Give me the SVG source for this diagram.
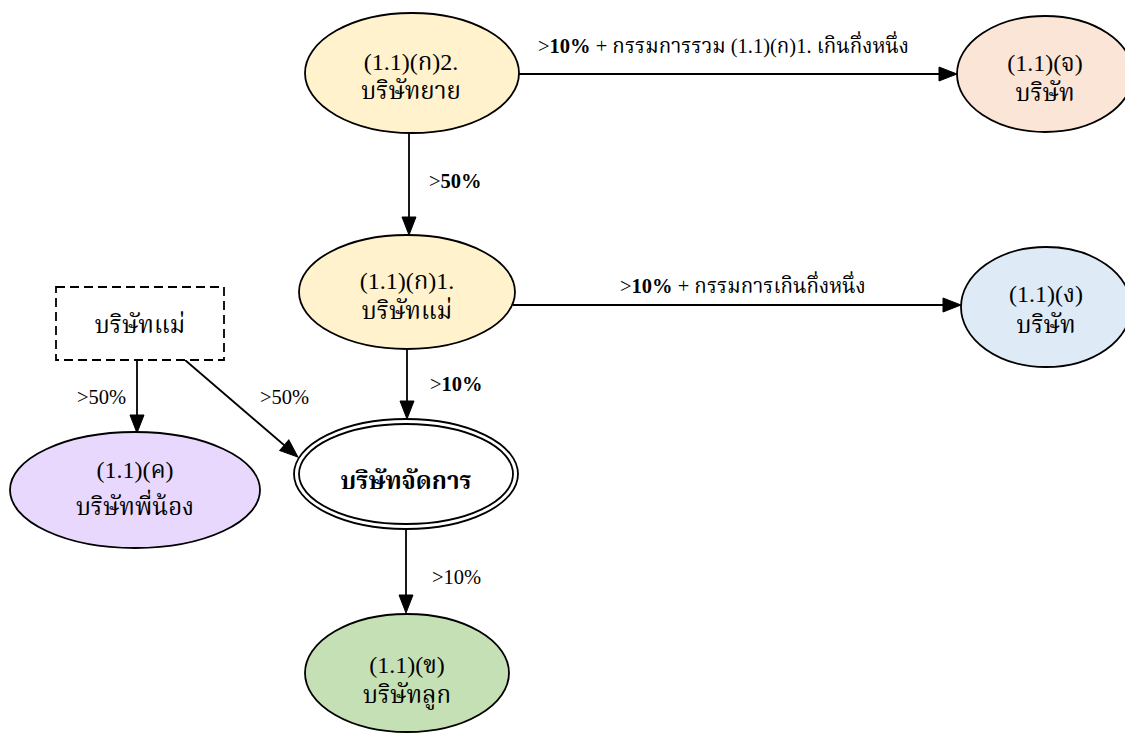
<svg xmlns="http://www.w3.org/2000/svg" width="1125" height="733" viewBox="0 0 1125 733">
<defs>
<marker id="ah" markerUnits="userSpaceOnUse" markerWidth="19" markerHeight="15" refX="0" refY="7" orient="auto" overflow="visible">
<path d="M0,0 L18,7 L0,14 z" fill="#000" stroke="#000" stroke-width="1"/>
</marker>
<style>
.n{stroke:#000;stroke-width:1.8}
.t{font-family:'Liberation Serif','Noto Serif Thai','DejaVu Serif',serif;font-size:24px;fill:#000;text-anchor:middle}
.e{fill:none;stroke:#000;stroke-width:1.8;marker-end:url(#ah)}
.l{font-family:'Liberation Serif','Noto Serif Thai','DejaVu Serif',serif;font-size:20.5px;fill:#000}
.b{font-weight:bold}
</style>
</defs>
<rect width="1125" height="733" fill="#fff"/>
<g id="connectors">
<path class="e" d="M518,74 L939,74"/>
<path class="e" d="M409,133 L409,217"/>
<path class="e" d="M513,305 L943,305"/>
<path class="e" d="M407,349 L407,401"/>
<path class="e" d="M137,360 L137,415"/>
<path class="e" d="M185,360 L284.3,445.3"/>
<path class="e" d="M406,529 L406,595"/>
<text class="l" x="538" y="53">&gt;<tspan class="b">10%</tspan> + กรรมการรวม (1.1)(ก)1. เกินกึ่งหนึ่ง</text>
<text class="l" x="429" y="188">&gt;<tspan class="b">50%</tspan></text>
<text class="l" x="620" y="293">&gt;<tspan class="b">10%</tspan> + กรรมการเกินกึ่งหนึ่ง</text>
<text class="l" x="430" y="391">&gt;<tspan class="b">10%</tspan></text>
<text class="l" x="77" y="404">&gt;50%</text>
<text class="l" x="260" y="404">&gt;50%</text>
<text class="l" x="432" y="584">&gt;10%</text>
</g>
<g id="n_k2">
<ellipse class="n" cx="412" cy="73" rx="107" ry="60" fill="#fff2cc"/>
<text class="t" x="411" y="70">(1.1)(ก)2.</text>
<text class="t" x="411" y="99">บริษัทยาย</text>
</g>
<g id="n_j">
<ellipse class="n" cx="1045" cy="74" rx="88" ry="58" fill="#fbe5d6"/>
<text class="t" x="1045" y="71">(1.1)(จ)</text>
<text class="t" x="1045" y="101">บริษัท</text>
</g>
<g id="n_k1">
<ellipse class="n" cx="407" cy="292" rx="108" ry="57" fill="#fff2cc"/>
<text class="t" x="407" y="289">(1.1)(ก)1.</text>
<text class="t" x="407" y="319">บริษัทแม่</text>
</g>
<g id="n_ng">
<ellipse class="n" cx="1046" cy="307" rx="85" ry="60" fill="#deebf7"/>
<text class="t" x="1046" y="302">(1.1)(ง)</text>
<text class="t" x="1046" y="333">บริษัท</text>
</g>
<g id="n_parent">
<rect x="56" y="287" width="168" height="73" fill="#fff" stroke="#000" stroke-width="1.8" stroke-dasharray="9,5"/>
<text class="t" x="140" y="333">บริษัทแม่</text>
</g>
<g id="n_mgmt">
<ellipse class="n" cx="406" cy="474" rx="112" ry="55" fill="#fff"/>
<ellipse class="n" cx="406" cy="474" rx="107" ry="50" fill="none"/>
<text class="t b" x="406" y="489">บริษัทจัดการ</text>
</g>
<g id="n_kh">
<ellipse class="n" cx="135" cy="490" rx="125" ry="58" fill="#e9d8fd"/>
<text class="t" x="135" y="478">(1.1)(ค)</text>
<text class="t" x="135" y="515">บริษัทพี่น้อง</text>
</g>
<g id="n_kho">
<ellipse class="n" cx="407" cy="673" rx="102" ry="59" fill="#c5e0b4"/>
<text class="t" x="407" y="673">(1.1)(ข)</text>
<text class="t" x="407" y="703">บริษัทลูก</text>
</g>
</svg>
